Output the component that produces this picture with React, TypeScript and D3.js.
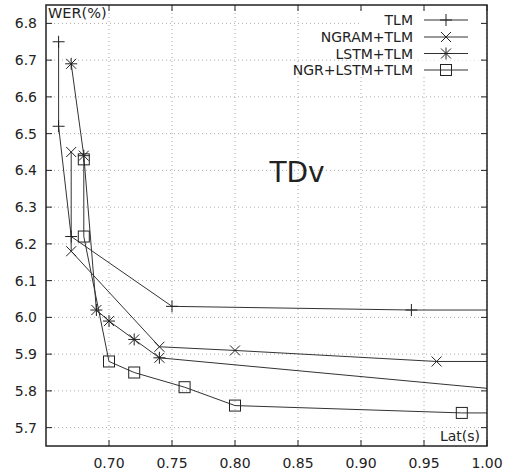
import React from "react";
import * as d3 from "d3";

const seriesNames = ["TLM", "NGRAM+TLM", "LSTM+TLM", "NGR+LSTM+TLM"];
const markerKinds = ["plus", "cross", "star", "square"];

const tlmX = [0.66, 0.66, 0.67, 0.75, 0.94, 1.05];
const tlmY = [6.75, 6.52, 6.22, 6.03, 6.02, 6.02];
const ngramX = [0.67, 0.67, 0.74, 0.80, 0.96, 1.05];
const ngramY = [6.45, 6.18, 5.92, 5.91, 5.88, 5.88];
const lstmX = [0.67, 0.68, 0.69, 0.70, 0.72, 0.74, 1.1];
const lstmY = [6.69, 6.44, 6.02, 5.99, 5.94, 5.89, 5.775];
const ngrLstmX = [0.68, 0.68, 0.70, 0.72, 0.76, 0.80, 0.98, 1.05];
const ngrLstmY = [6.43, 6.22, 5.88, 5.85, 5.81, 5.76, 5.74, 5.74];

const xTicks = [0.7, 0.75, 0.8, 0.85, 0.9, 0.95, 1.0];
const yTicks = [5.7, 5.8, 5.9, 6.0, 6.1, 6.2, 6.3, 6.4, 6.5, 6.6, 6.7, 6.8];

const W = 511, H = 476;
const L = 46, R = 487, T = 5, B = 446;
const FONT = "DejaVu Sans, sans-serif";
const INK = "#222";
const LINE = "#333";

function Marker({ kind, x, y }: { kind: string; x: number; y: number }) {
  const s = { stroke: INK, strokeWidth: 1, fill: "none" } as const;
  if (kind === "plus") {
    return (
      <g {...s}>
        <line x1={x - 6} y1={y} x2={x + 6} y2={y} />
        <line x1={x} y1={y - 6} x2={x} y2={y + 6} />
      </g>
    );
  }
  if (kind === "cross") {
    return (
      <g {...s}>
        <line x1={x - 5} y1={y - 5} x2={x + 5} y2={y + 5} />
        <line x1={x - 5} y1={y + 5} x2={x + 5} y2={y - 5} />
      </g>
    );
  }
  if (kind === "star") {
    return (
      <g {...s}>
        <line x1={x - 5} y1={y - 5} x2={x + 5} y2={y + 5} />
        <line x1={x - 5} y1={y + 5} x2={x + 5} y2={y - 5} />
        <line x1={x - 6} y1={y} x2={x + 6} y2={y} />
        <line x1={x} y1={y - 6} x2={x} y2={y + 6} />
      </g>
    );
  }
  return <rect x={x - 5.5} y={y - 5.5} width={11} height={11} {...s} />;
}

export default function App() {
  const x = d3.scaleLinear().domain([0.65, 1.0]).range([L, R]);
  const y = d3.scaleLinear().domain([5.65, 6.85]).range([B, T]);
  const data = [
    tlmX.map((v, i) => [v, tlmY[i]]),
    ngramX.map((v, i) => [v, ngramY[i]]),
    lstmX.map((v, i) => [v, lstmY[i]]),
    ngrLstmX.map((v, i) => [v, ngrLstmY[i]]),
  ];
  const line = d3
    .line<number[]>()
    .x((d) => x(d[0]))
    .y((d) => y(d[1]));
  const legendRows = [20, 37, 53.5, 70];

  return (
    <svg
      width={W}
      height={H}
      style={{ position: "absolute", left: 0, top: 0, background: "#fff" }}
      fontFamily={FONT}
    >
      <defs>
        <clipPath id="plotclip">
          <rect x={L} y={T} width={R - L} height={B - T} />
        </clipPath>
      </defs>
      {/* grid */}
      <g stroke="#aaa" strokeWidth={1} strokeDasharray="1,3">
        {xTicks.map((t) => (
          <line key={"gx" + t} x1={x(t)} x2={x(t)} y1={T} y2={B} />
        ))}
        {yTicks.map((t) => (
          <line key={"gy" + t} x1={L} x2={R} y1={y(t)} y2={y(t)} />
        ))}
      </g>
      {/* ticks */}
      <g stroke={INK} strokeWidth={1}>
        {xTicks.map((t) => (
          <g key={"tx" + t}>
            <line x1={x(t)} x2={x(t)} y1={B} y2={B - 6} />
            <line x1={x(t)} x2={x(t)} y1={T} y2={T + 6} />
          </g>
        ))}
        {yTicks.map((t) => (
          <g key={"ty" + t}>
            <line x1={L} x2={L + 6} y1={y(t)} y2={y(t)} />
            <line x1={R} x2={R - 6} y1={y(t)} y2={y(t)} />
          </g>
        ))}
      </g>
      {/* tick labels */}
      <g fontSize={14} fill={INK}>
        {xTicks.map((t) => (
          <text key={"lx" + t} x={x(t)} y={468} textAnchor="middle">
            {d3.format(".2f")(t)}
          </text>
        ))}
        {yTicks.map((t) => (
          <text key={"ly" + t} x={37} y={y(t) + 5} textAnchor="end">
            {d3.format(".1f")(t)}
          </text>
        ))}
      </g>
      {/* series */}
      <g clipPath="url(#plotclip)">
        {data.map((pts, si) => (
          <path key={"p" + si} d={line(pts) || ""} fill="none" stroke={LINE} strokeWidth={1} />
        ))}
        {data.map((pts, si) =>
          pts
            .filter((p) => p[0] <= 1.0)
            .map((p, i) => (
              <Marker key={"m" + si + "_" + i} kind={markerKinds[si]} x={x(p[0])} y={y(p[1])} />
            ))
        )}
      </g>
      {/* frame */}
      <rect x={L} y={T} width={R - L} height={B - T} fill="none" stroke={INK} strokeWidth={1.5} />
      {/* axis titles */}
      <text x={48} y={18} fontSize={14.5} fill={INK}>
        WER(%)
      </text>
      <text x={480} y={441} fontSize={14} fill={INK} textAnchor="end">
        Lat(s)
      </text>
      <text x={297} y={182} fontSize={28} fill={INK} textAnchor="middle">
        TDv
      </text>
      {/* legend */}
      <g>
        {seriesNames.map((name, i) => (
          <g key={"lg" + i}>
            <rect x={360} y={legendRows[i] - 9} width={120} height={16} fill="#fff" />
            <text x={413} y={legendRows[i] + 5} fontSize={14} fill={INK} textAnchor="end">
              {name}
            </text>
            <line x1={424} x2={468} y1={legendRows[i]} y2={legendRows[i]} stroke={LINE} strokeWidth={1} />
            <Marker kind={markerKinds[i]} x={446} y={legendRows[i]} />
          </g>
        ))}
      </g>
    </svg>
  );
}
